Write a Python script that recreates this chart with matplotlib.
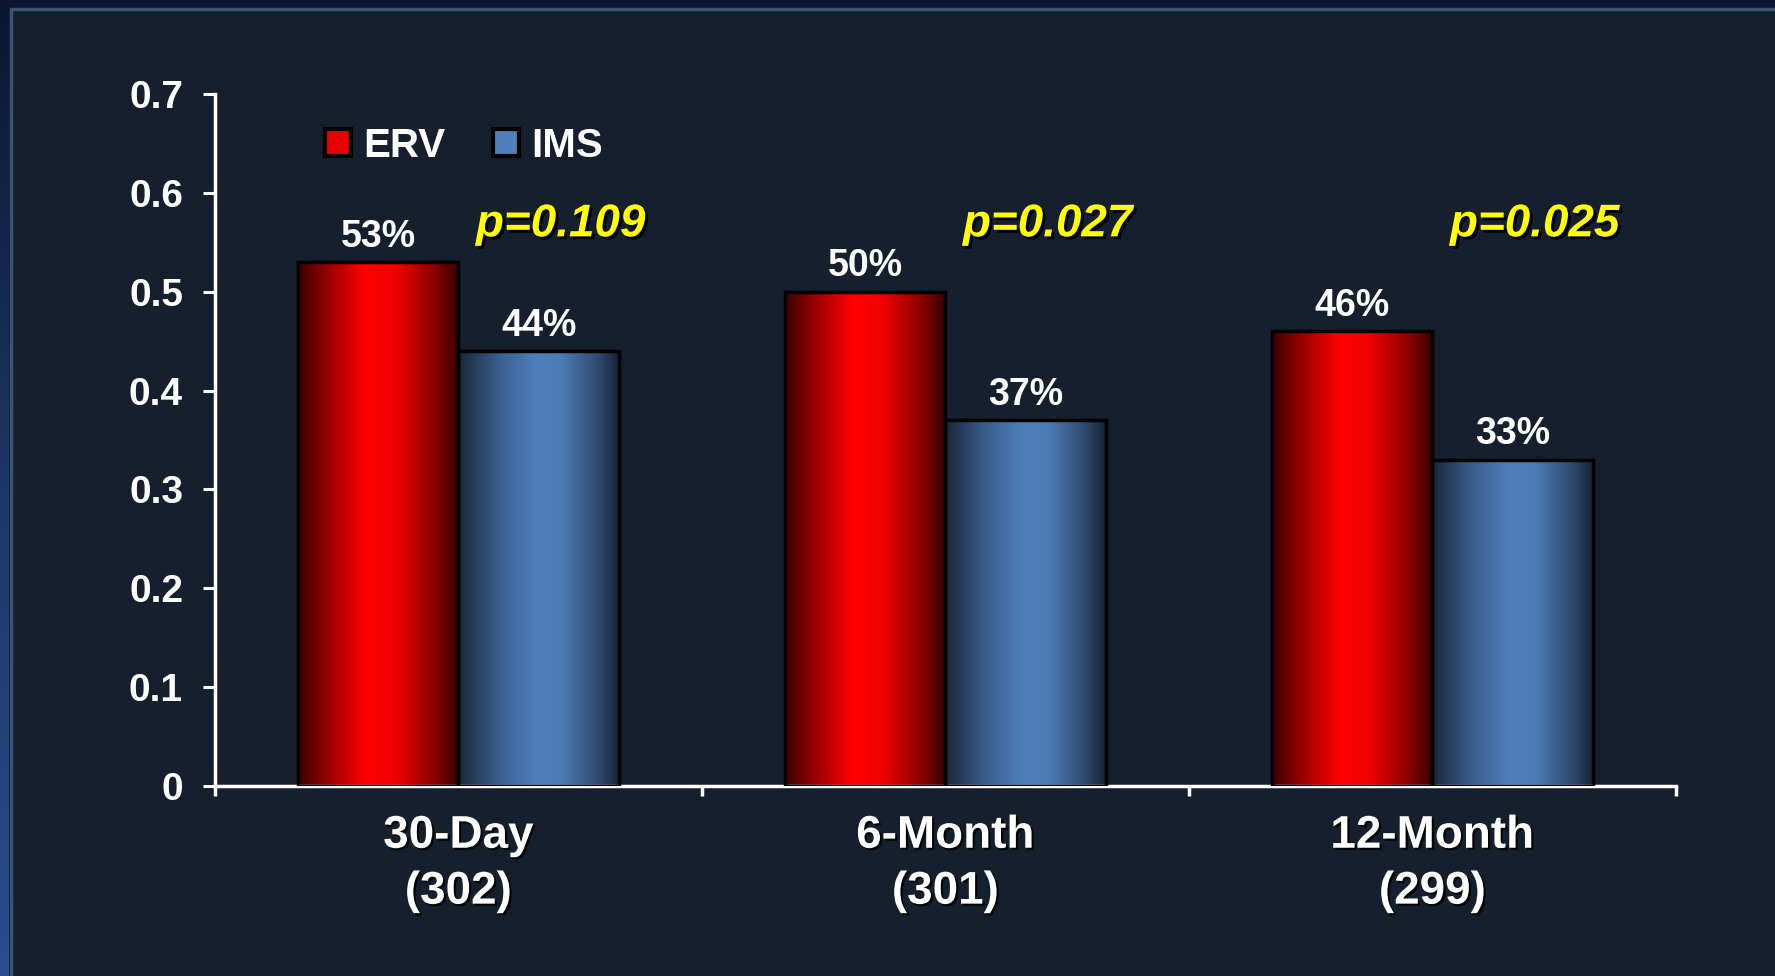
import numpy as np
import matplotlib.pyplot as plt
import matplotlib.patheffects as pe
from matplotlib.patches import Rectangle, Patch
from matplotlib.colors import LinearSegmentedColormap
from matplotlib.ticker import FuncFormatter

# Data
categories = ['30-Day\n(302)', '6-Month\n(301)', '12-Month\n(299)']
series_names = ['ERV', 'IMS']
erv = [0.53, 0.50, 0.46]
ims = [0.44, 0.37, 0.33]
p_values = ['p=0.109', 'p=0.027', 'p=0.025']

plt.rcParams['font.family'] = ['Liberation Sans', 'DejaVu Sans']
plt.rcParams['font.weight'] = 'bold'

bg = '#151f2d'
fig = plt.figure(figsize=(17.75, 9.76), dpi=100, facecolor='#0b1730')

# slide frame
fig.patches.append(Rectangle((11 / 1775, -0.01), 1.0, 1 - 9 / 976 + 0.01,
                             transform=fig.transFigure, facecolor=bg,
                             edgecolor='#3b5372', linewidth=2.5, zorder=-10))
strip = fig.add_axes([0, 0, 9 / 1775, 1 - 9 / 976], zorder=-5)
strip.imshow(np.linspace(0, 1, 200)[:, None],
             cmap=LinearSegmentedColormap.from_list('s', ['#0b1730', '#1d3766', '#2b4c8e']),
             aspect='auto', extent=[0, 1, 0, 1])
strip.axis('off')

ax = fig.add_axes([0.1211, 0.1947, 0.8231, 0.709], zorder=1)
ax.set_facecolor('none')

red_cm = LinearSegmentedColormap.from_list('red', [
    (0, '#3e0000'), (0.2, '#a00000'), (0.42, '#ff0000'), (0.6, '#f20000'),
    (0.85, '#8c0000'), (1, '#380000')])
blue_cm = LinearSegmentedColormap.from_list('blue', [
    (0, '#1a2638'), (0.25, '#3a5e8e'), (0.48, '#4f7fba'), (0.65, '#4c7ab4'),
    (0.87, '#2f4a70'), (1, '#182335')])

w = 0.33
x = np.arange(len(categories))
grad = np.linspace(0, 1, 256)[None, :]
for i in x:
    for x0, h, cm in [(i - w, erv[i], red_cm), (i, ims[i], blue_cm)]:
        ax.imshow(grad, cmap=cm, extent=[x0, x0 + w, 0, h], aspect='auto',
                  interpolation='bilinear', zorder=2)

ax.bar(x - w / 2, erv, w, facecolor='none', edgecolor='black', linewidth=2.5, zorder=3)
ax.bar(x + w / 2, ims, w, facecolor='none', edgecolor='black', linewidth=2.5, zorder=3)

shadow = [pe.withSimplePatchShadow(offset=(1.5, -1.5), shadow_rgbFace='black', alpha=0.9)]
for i in x:
    for xc, v in [(i - w / 2, erv[i]), (i + w / 2, ims[i])]:
        ax.annotate(f'{round(v * 100)}%', (xc, v), xytext=(0, 11),
                    textcoords='offset points', ha='center', va='baseline',
                    color='white', fontsize=27, fontweight='bold', zorder=4)
    ax.text(i + 0.21, 0.556, p_values[i], color='#ffff00', fontsize=33,
            style='italic', fontweight='bold', ha='center', va='baseline',
            path_effects=[pe.withSimplePatchShadow(offset=(2, -2), shadow_rgbFace='black', alpha=1)])

ax.set_xlim(-0.5, 2.5)
ax.set_ylim(0, 0.7)

ax.set_yticks(np.arange(0, 0.71, 0.1))
ax.yaxis.set_major_formatter(FuncFormatter(lambda v, _: '0' if abs(v) < 1e-9 else f'{v:.1f}'))
ax.tick_params(axis='y', colors='white', length=9, width=2.2, pad=14, labelsize=28)

ax.set_xticks(x)
ax.set_xticklabels(categories, fontsize=33, linespacing=1.35)
for lbl in ax.get_xticklabels():
    lbl.set_path_effects(shadow)
ax.set_xticks([-0.5, 0.5, 1.5, 2.5], minor=True)
ax.tick_params(axis='x', which='major', length=0, pad=20, colors='white')
ax.tick_params(axis='x', which='minor', length=7, width=2.5, color='white')

for s in ['top', 'right']:
    ax.spines[s].set_visible(False)
for s in ['left', 'bottom']:
    ax.spines[s].set_color('white')
    ax.spines[s].set_linewidth(2.5)

handles = [Patch(facecolor='#e80000', edgecolor='black', linewidth=3),
           Patch(facecolor='#4f7fba', edgecolor='black', linewidth=3)]
ax.legend(handles, series_names, loc='center left', bbox_to_anchor=(0.075, 0.925),
          ncol=2, frameon=False, prop={'size': 29, 'weight': 'bold'},
          labelcolor='white', handlelength=0.65, handleheight=0.65,
          handletextpad=0.3, columnspacing=1.2, borderpad=0, borderaxespad=0)

fig.savefig('out.png', dpi=100, facecolor=fig.get_facecolor())
plt.close()
